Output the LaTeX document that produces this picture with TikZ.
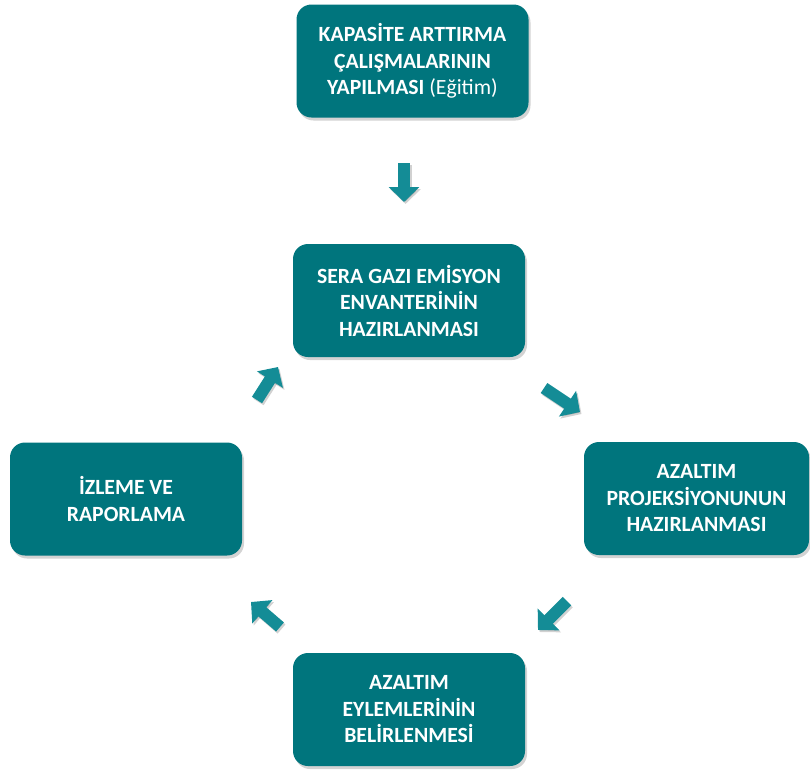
\documentclass[tikz,border=0pt]{standalone}
\usepackage{fontspec}
\setmainfont{Carlito}
\usetikzlibrary{arrows.meta, shadows}
\definecolor{boxteal}{RGB}{0,117,125}
\definecolor{arrteal}{RGB}{20,140,150}
\tikzset{
  box/.style    = {rounded corners=15pt, fill=boxteal, text=white, align=center,
                   font=\fontsize{21.7}{26.5}\selectfont\bfseries,
                   minimum width=232pt, minimum height=113pt, inner sep=4pt,
                   drop shadow={opacity=0.35, shadow xshift=2pt, shadow yshift=-3pt}},
  blockarrow/.style = {-{Triangle[width=30pt, length=15pt]}, line width=12pt, arrteal},
  arrshadow/.style  = {blockarrow, black, opacity=0.18},
}
\begin{document}
\begin{tikzpicture}[x=1pt, y=-1pt]
\useasboundingbox (0,0) rectangle (810,769);

\node[box] (kap) at (412.5,61) {KAPASİTE ARTTIRMA\\ÇALIŞMALARININ\\YAPILMASI {\mdseries(Eğitim)}};
\node[box] (env) at (409,300.5) {SERA GAZI EMİSYON\\ENVANTERİNİN\\HAZIRLANMASI};
\node[box, minimum width=225pt] (pro) at (696.5,498.5) {AZALTIM\\PROJEKSİYONUNUN\\HAZIRLANMASI};
\node[box] (eyl) at (409,709.5) {AZALTIM\\EYLEMLERİNİN\\BELİRLENMESİ};
\node[box] (izl) at (126,499) {İZLEME VE\\RAPORLAMA};

% arrow ends
\coordinate (a0) at (404,163); \coordinate (b0) at (404,202);
\coordinate (a1) at (544,388); \coordinate (b1) at (580,412);
\coordinate (a2) at (567,601); \coordinate (b2) at (538,630);
\coordinate (a3) at (280,627); \coordinate (b3) at (251,602);
\coordinate (a4) at (257,400); \coordinate (b4) at (278,367);

\foreach \i in {0,...,4} {
  \draw[arrshadow, transform canvas={shift={(1.5pt,-2pt)}}] (a\i) -- (b\i);
  \draw[blockarrow] (a\i) -- (b\i);
}

\end{tikzpicture}
\end{document}
